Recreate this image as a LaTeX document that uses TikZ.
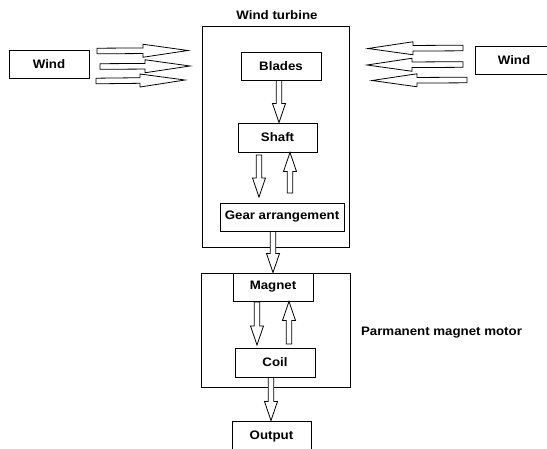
\documentclass[tikz,border=0pt]{standalone}
\usepackage{fontspec}
\setmainfont{Liberation Sans}[FakeStretch=1.08]
\usetikzlibrary{calc}
\tikzset{
  box/.style={draw, line width=0.9pt, inner sep=0pt, align=center},
  lbl/.style={inner sep=0pt},
  barrow/.style n args={3}{draw, fill=white, line width=0.8pt, line join=miter, to path={
    let \p1=(\tikztostart), \p2=(\tikztotarget), \p3=($(\p2)!#3!(\p1)$)
    in ($(\p1)!#1!90:(\p2)$) -- ($(\p3)!#1!90:(\p2)$) -- ($(\p3)!#2!90:(\p2)$)
       -- (\p2) -- ($(\p3)!#2!-90:(\p2)$) -- ($(\p3)!#1!-90:(\p2)$)
       -- ($(\p1)!#1!-90:(\p2)$) -- cycle
  }},
  varrow/.style={barrow={2.8pt}{6.5pt}{19pt}},
  harrow/.style={barrow={2.8pt}{6.5pt}{45pt}},
}
\begin{document}
\begin{tikzpicture}[x=1pt,y=-1pt,font=\bfseries\fontsize{12.3}{14}\selectfont]
\clip (0,0) rectangle (547,448);
\fill[white] (0,0) rectangle (547,448);
% outer boxes
\node[box, minimum width=147pt, minimum height=221pt] (turbine) at (275.5,136.5) {};
\node[lbl] (turbinelbl) at (277,15) {Wind turbine};
\node[box, minimum width=149pt, minimum height=114pt] (motor) at (275.5,330) {};
\node[lbl] (motorlbl) at (441.5,333) {Parmanent magnet motor};
% inner boxes
\node[box, minimum width=80pt, minimum height=28pt] (blades) at (281,66) {Blades};
\node[box, minimum width=79pt, minimum height=29pt] (shaft) at (277.5,137.5) {Shaft};
\node[box, minimum width=124pt, minimum height=28pt] (gear) at (282,217) {Gear arrangement};
\node[box, minimum width=80pt, minimum height=28pt] (magnet) at (273,287) {Magnet};
\node[box, minimum width=80pt, minimum height=29pt] (coil) at (275,362.5) {Coil};
\node[box, minimum width=79pt, minimum height=31pt] (output) at (271.5,436.5) {\raisebox{3pt}{Output}};
\node[box, minimum width=80pt, minimum height=28pt] (windL) at (49,64) {Wind};
\node[box, minimum width=78pt, minimum height=28pt] (windR) at (514,60) {Wind};
% anchor columns
\coordinate (c1) at (279,0);
\coordinate (su1) at (290,193);
\coordinate (cg) at (273,0);
\coordinate (mu1) at (289,344);
\coordinate (co) at (271,0);
\coordinate (sd1) at (259,155); \coordinate (sd2) at (259,197);
\coordinate (md1) at (257,302); \coordinate (md2) at (257,345);
% vertical arrows
\draw[varrow] (c1 |- blades.south) to (c1 |- shaft.north);
\draw[varrow] (sd1) to (sd2);
\draw[varrow] (su1) to (su1 |- shaft.south);
\draw[varrow] (cg |- gear.south) to (cg |- magnet.north);
\draw[varrow] (md1) to (md2);
\draw[varrow] (mu1) to (mu1 |- magnet.south);
\draw[varrow] (co |- coil.south) to (co |- output.north);
% wind arrows left
\coordinate (l1a) at (97,51);   \coordinate (l1b) at (188,50.5);
\coordinate (l2a) at (100,66.5); \coordinate (l2b) at (190,66);
\coordinate (l3a) at (96,81);   \coordinate (l3b) at (185,80);
\draw[harrow] (l1a) to (l1b);
\draw[harrow] (l2a) to (l2b);
\draw[harrow] (l3a) to (l3b);
% wind arrows right
\coordinate (r1a) at (463,48);   \coordinate (r1b) at (368,48.5);
\coordinate (r2a) at (463,64.5); \coordinate (r2b) at (367,65);
\coordinate (r3a) at (467,80);   \coordinate (r3b) at (372,80.5);
\draw[harrow] (r1a) to (r1b);
\draw[harrow] (r2a) to (r2b);
\draw[harrow] (r3a) to (r3b);
\end{tikzpicture}
\end{document}
